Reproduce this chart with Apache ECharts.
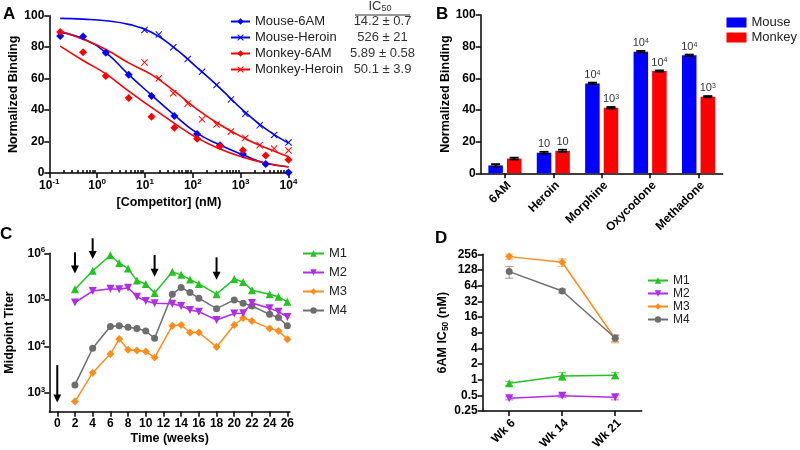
<!DOCTYPE html>
<html><head><meta charset="utf-8">
<script src="https://cdn.jsdelivr.net/npm/echarts@6/dist/echarts.min.js"></script>
<style>html,body{margin:0;padding:0;background:#fff}#c{width:800px;height:450px}</style>
</head><body><div id="c"></div>
<script>
// ===== Panel A: competition binding =====
const conc6AM = [0.169, 0.508, 1.52, 4.57, 13.7, 41.2, 123, 370, 1111, 3333, 10000];
const concHeroin = [9.77, 19.5, 39.1, 78.1, 156, 313, 625, 1250, 2500, 5000, 10000];
const mouse6AM = [87.1, 86.7, 76.5, 62.5, 49.0, 36.3, 24.8, 17.6, 12.0, 5.7, 0.3];
const monkey6AM = [89.6, 76.7, 61.7, 47.7, 35.8, 28.8, 21.8, 17.0, 14.4, 11.1, 8.5];
const mouseHeroin = [90.9, 88.1, 79.9, 72.5, 64.4, 55.9, 46.8, 37.6, 30.3, 24.2, 19.4];
const monkeyHeroin = [70.3, 60.2, 50.7, 44.1, 34.1, 30.8, 26.4, 22.3, 17.7, 15.5, 14.3];
// fitted curves at the 6AM concentrations
const fitX = [0.169, 0.508, 1.52, 4.57, 13.7, 41.2, 123, 370, 1111, 3333, 10000];
const fitMouse6AM = [89.4, 85.3, 76.5, 62.5, 49.5, 36.8, 25.3, 17.8, 11.6, 6.2, 4.0];
const fitMonkey6AM = [80.7, 71.5, 63.0, 52.0, 41.7, 31.6, 22.3, 15.3, 10.1, 6.3, 3.8];
const fitMouseHeroin = [98.3, 97.8, 96.8, 94.5, 89.5, 79.5, 67.0, 54.0, 40.0, 28.0, 19.0];
const fitMonkeyHeroin = [90.3, 85.0, 78.6, 70.0, 62.5, 52.0, 40.5, 30.7, 22.6, 16.0, 10.4];
const seriesNamesA = ['Mouse-6AM', 'Mouse-Heroin', 'Monkey-6AM', 'Monkey-Heroin'];
const ic50Text = ['14.2 \u00b1 0.7', '526 \u00b1 21', '5.89 \u00b1 0.58', '50.1 \u00b1 3.9'];
const majorTicksA = [0.1, 1, 10, 100, 1000, 10000];
const minorTicksA = [0.2,0.3,0.4,0.5,0.6,0.7,0.8,0.9, 2,3,4,5,6,7,8,9, 20,30,40,50,60,70,80,90,
  200,300,400,500,600,700,800,900, 2000,3000,4000,5000,6000,7000,8000,9000];

// ===== Panel B: cross-reactivity =====
const drugs = ['6AM', 'Heroin', 'Morphine', 'Oxycodone', 'Methadone'];
const bindMouse = [5.0, 13.0, 56.8, 76.8, 74.5];
const bindMonkey = [9.3, 14.2, 41.4, 64.6, 48.4];
const errMouse = [0.8, 0.6, 0.5, 0.5, 0.5];
const errMonkey = [0.6, 0.7, 0.5, 0.4, 0.4];
const lblMouse = [['', ''], ['10', ''], ['10', '4'], ['10', '4'], ['10', '4']];
const lblMonkey = [['', ''], ['10', ''], ['10', '3'], ['10', '4'], ['10', '3']];

// ===== Panel C: titers =====
const weeks = [2, 4, 6, 7, 8, 9, 10, 11, 13, 14, 15, 16, 18, 20, 21, 22, 24, 25, 26];
const titerM1 = [1.7e5, 4.2e5, 9.1e5, 6.2e5, 4.7e5, 2.6e5, 2.2e5, 1.4e5, 4.0e5, 3.45e5, 2.75e5, 2.2e5, 1.33e5, 2.8e5, 2.43e5, 1.62e5, 1.32e5, 1.17e5, 9.1e4];
const titerM2 = [8.8e4, 1.55e5, 1.74e5, 1.7e5, 1.82e5, 1.17e5, 9.5e4, 8.5e4, 8.3e4, 7.4e4, 6.1e4, 5.6e4, 3.7e4, 5.1e4, 5.2e4, 8.6e4, 6.6e4, 5.6e4, 4.3e4];
const titerM3 = [660, 2750, 6900, 1.45e4, 8500, 8200, 7800, 5800, 2.8e4, 2.9e4, 2.0e4, 2.0e4, 9800, 2.9e4, 4.1e4, 3.55e4, 2.45e4, 2.15e4, 1.44e4];
const titerM4 = [1500, 9200, 2.7e4, 2.8e4, 2.6e4, 2.45e4, 2.15e4, 1.5e4, 1.33e5, 1.85e5, 1.44e5, 1.09e5, 6.5e4, 1.0e5, 8.5e4, 7.4e4, 4.9e4, 4.2e4, 2.8e4];
const boostWeeks = [0, 2, 4, 11, 18];
const arrowFrom = [4000, 1.05e6, 2.1e6, 9.2e5, 8.2e5];
const arrowTo = [630, 3.7e5, 7.5e5, 3.15e5, 2.7e5];
const weekTicks = [0, 2, 4, 6, 8, 10, 12, 14, 16, 18, 20, 22, 24, 26];
const titerTicks = [1e3, 1e4, 1e5, 1e6];

// ===== Panel D: 6AM IC50 =====
const wkLabels = ['Wk 6', 'Wk 14', 'Wk 21'];
const ic50M1 = [0.85, 1.17, 1.21], errM1 = [0.08, 0.2, 0.16];
const ic50M2 = [0.44, 0.49, 0.46], errM2 = [0.03, 0.035, 0.05];
const ic50M3 = [231, 180, 6.1], errM3 = [25, 30, 1.0];
const ic50M4 = [119, 50.5, 6.3], errM4 = [30, 4, 0.9];
const ic50Ticks = [0.25, 0.5, 1, 2, 4, 8, 16, 32, 64, 128, 256];

// ===== styles =====
const FF = '"Liberation Sans", Arial, sans-serif';
const BLUE = '#0000ff', RED = '#ff0000';
const GREEN = '#22c322', PURPLE = '#b02ce8', ORANGE = '#ff8c1a', GRAY = '#6e6e6e';
const mNames = ['M1', 'M2', 'M3', 'M4'];
const mColors = [GREEN, PURPLE, ORANGE, GRAY];
const mSymbols = ['triangle', 'triangle', 'diamond', 'circle'];
const mRot = [0, 180, 0, 0];
const mSize = [8, 8, 8, 7];
const XSYM = 'path://M1,0L5,4L9,0L10,1L6,5L10,9L9,10L5,6L1,10L0,9L4,5L0,1Z';

const axLine = {show: true, onZero: false, lineStyle: {color: '#000', width: 1.5}};
const axTick = (vals, len) => Object.assign({show: true, length: len || 5, lineStyle: {color: '#000', width: 1.5}}, vals ? {customValues: vals} : {});
const labStyle = {color: '#000', fontWeight: 'bold', fontSize: 12, fontFamily: FF};
const nameStyle = {color: '#000', fontWeight: 'bold', fontSize: 12.5, fontFamily: FF};
const supRich = {
  b: {fontSize: 12, fontWeight: 'bold', fontFamily: FF, color: '#000', lineHeight: 15},
  s: {fontSize: 8, fontWeight: 'bold', fontFamily: FF, color: '#000', verticalAlign: 'top', lineHeight: 9}
};
function pow10Label(v) {
  const e = Math.round(Math.log10(v));
  return '{b|10}{s|' + e + '}';
}
function pair(xs, ys) { return xs.map((x, i) => [x, ys[i]]); }
function supLabel(p) {
  if (!p || !p[0]) return '';
  return p[1] ? '{b|' + p[0] + '}{s|' + p[1] + '}' : '{b|' + p[0] + '}';
}

function errRender(color, halfCap, offset, lw) {
  return function (params, api) {
    const x = api.value(0), v = api.value(1), e = api.value(2);
    const hi = api.coord([x, v + e]);
    const lo = api.coord([x, Math.max(v - e, 1e-9)]);
    const cx = hi[0] + offset;
    const st = {stroke: color, lineWidth: lw};
    return {type: 'group', children: [
      {type: 'line', shape: {x1: cx, y1: hi[1], x2: cx, y2: lo[1]}, style: st},
      {type: 'line', shape: {x1: cx - halfCap, y1: hi[1], x2: cx + halfCap, y2: hi[1]}, style: st},
      {type: 'line', shape: {x1: cx - halfCap, y1: lo[1], x2: cx + halfCap, y2: lo[1]}, style: st}
    ]};
  };
}
function arrowRender(params, api) {
  const p1 = api.coord([api.value(0), api.value(1)]);
  const p2 = api.coord([api.value(0), api.value(2)]);
  const h = 8, w = 4;
  return {type: 'group', children: [
    {type: 'line', shape: {x1: p1[0], y1: p1[1], x2: p2[0], y2: p2[1] - h + 1}, style: {stroke: '#000', lineWidth: 2}},
    {type: 'polygon', shape: {points: [[p2[0] - w, p2[1] - h], [p2[0] + w, p2[1] - h], [p2[0], p2[1]]]}, style: {fill: '#000'}}
  ]};
}

const series = [];
// ---- A fits (legend carriers) ----
const fitsA = [fitMouse6AM, fitMouseHeroin, fitMonkey6AM, fitMonkeyHeroin];
const ptsA = [[conc6AM, mouse6AM], [concHeroin, mouseHeroin], [conc6AM, monkey6AM], [concHeroin, monkeyHeroin]];
const colA = [BLUE, BLUE, RED, RED];
const symA = ['diamond', XSYM, 'diamond', XSYM];
for (let i = 0; i < 4; i++) {
  series.push({
    type: 'line', name: seriesNamesA[i], xAxisIndex: 0, yAxisIndex: 0,
    data: pair(fitX, fitsA[i]), smooth: true, symbol: symA[i], symbolSize: 8, showSymbol: false,
    lineStyle: {color: colA[i], width: 1.6}, itemStyle: {color: colA[i]}, clip: false, z: 2
  });
  series.push({
    type: 'scatter', name: seriesNamesA[i] + ' data', xAxisIndex: 0, yAxisIndex: 0,
    data: pair(ptsA[i][0], ptsA[i][1]), symbol: symA[i], symbolSize: symA[i] === XSYM ? 7 : 8,
    itemStyle: {color: colA[i], opacity: 1}, clip: false, z: 3
  });
}
// ---- B bars ----
const barLabelRich = {b: {fontSize: 11, fontFamily: FF, color: '#333'}, s: {fontSize: 7, fontFamily: FF, color: '#333', verticalAlign: 'top'}};
series.push({
  type: 'bar', name: 'Mouse', xAxisIndex: 2, yAxisIndex: 1, data: bindMouse,
  barWidth: 14.5, barGap: '28%', itemStyle: {color: BLUE},
  label: {show: true, position: 'top', distance: 3, formatter: p => supLabel(lblMouse[p.dataIndex]), rich: barLabelRich}
});
series.push({
  type: 'bar', name: 'Monkey', xAxisIndex: 2, yAxisIndex: 1, data: bindMonkey,
  barWidth: 14.5, barGap: '28%', itemStyle: {color: RED},
  label: {show: true, position: 'top', distance: 3, formatter: p => supLabel(lblMonkey[p.dataIndex]), rich: barLabelRich}
});
series.push({type: 'custom', name: 'errMouse', xAxisIndex: 2, yAxisIndex: 1, z: 5,
  data: drugs.map((d, i) => [i, bindMouse[i], errMouse[i]]), renderItem: errRender('#000', 4.5, -9.28, 1.8)});
series.push({type: 'custom', name: 'errMonkey', xAxisIndex: 2, yAxisIndex: 1, z: 5,
  data: drugs.map((d, i) => [i, bindMonkey[i], errMonkey[i]]), renderItem: errRender('#000', 4.5, 9.28, 1.8)});
// ---- C titers ----
const titers = [titerM1, titerM2, titerM3, titerM4];
for (let i = 0; i < 4; i++) {
  series.push({
    type: 'line', name: mNames[i], xAxisIndex: 3, yAxisIndex: 2, data: pair(weeks, titers[i]),
    symbol: mSymbols[i], symbolRotate: mRot[i], symbolSize: mSize[i], showSymbol: true,
    lineStyle: {color: mColors[i], width: 1.5}, itemStyle: {color: mColors[i]}, clip: false, z: 3 + (3 - i)
  });
}
series.push({type: 'custom', name: 'boosts', xAxisIndex: 3, yAxisIndex: 2, z: 10, clip: false,
  data: boostWeeks.map((w, i) => [w, arrowFrom[i], arrowTo[i]]), renderItem: arrowRender});
// ---- D IC50 ----
const ic50s = [ic50M1, ic50M2, ic50M3, ic50M4];
const errs = [errM1, errM2, errM3, errM4];
for (let i = 0; i < 4; i++) {
  series.push({
    type: 'line', name: mNames[i], xAxisIndex: 4, yAxisIndex: 3, data: ic50s[i],
    symbol: mSymbols[i], symbolRotate: mRot[i], symbolSize: mSize[i], showSymbol: true,
    lineStyle: {color: mColors[i], width: 1.5}, itemStyle: {color: mColors[i]}, clip: false, z: 4
  });
  series.push({type: 'custom', name: 'errD' + i, xAxisIndex: 4, yAxisIndex: 3, z: 3,
    data: wkLabels.map((w, j) => [j, ic50s[i][j], errs[i][j]]),
    renderItem: errRender(echarts.color.modifyAlpha(mColors[i], 0.6), 4, 0, 1.2)});
}

const rotLabel = Object.assign({}, labStyle, {rotate: 45, interval: 0, margin: 6, verticalAlign: 'top', align: 'right'});
const option = {
  animation: false,
  backgroundColor: '#fff',
  textStyle: {fontFamily: FF},
  grid: [
    {left: 49.3, top: 15.7, width: 239.2, height: 157.3, outerBoundsMode: 'none'},
    {left: 480.7, top: 15, width: 242, height: 158.3, outerBoundsMode: 'none'},
    {left: 49.3, top: 253.3, width: 240.7, height: 158.4, outerBoundsMode: 'none'},
    {left: 482.7, top: 254.3, width: 159, height: 156.7, outerBoundsMode: 'none'}
  ],
  xAxis: [
    {type: 'log', gridIndex: 0, logBase: 10, min: 0.1, max: 10000, axisLine: axLine, axisTick: axTick(majorTicksA, 5),
     splitLine: {show: false}, minorTick: {show: false},
     axisLabel: {customValues: majorTicksA, formatter: pow10Label, rich: supRich, margin: 5},
     name: '[Competitor] (nM)', nameLocation: 'middle', nameGap: 23.5, nameTextStyle: nameStyle},
    {type: 'log', gridIndex: 0, logBase: 10, min: 0.1, max: 10000, axisLine: {show: false},
     axisTick: axTick(minorTicksA, 3), axisLabel: {show: false}, splitLine: {show: false}},
    {type: 'category', gridIndex: 1, data: drugs, axisLine: axLine, axisTick: Object.assign(axTick(null, 5), {alignWithLabel: true}),
     axisLabel: rotLabel},
    {type: 'value', gridIndex: 2, min: -0.9, max: 26.3, axisLine: axLine, axisTick: axTick(weekTicks, 5), splitLine: {show: false},
     axisLabel: Object.assign({}, labStyle, {customValues: weekTicks, margin: 6}),
     name: 'Time (weeks)', nameLocation: 'middle', nameGap: 20.4, nameTextStyle: nameStyle},
    {type: 'category', gridIndex: 3, data: wkLabels, axisLine: axLine, axisTick: Object.assign(axTick(null, 5), {alignWithLabel: true}),
     axisLabel: rotLabel}
  ],
  yAxis: [
    {type: 'value', gridIndex: 0, min: 0, max: 100, interval: 20, axisLine: axLine, axisTick: axTick(null, 5), splitLine: {show: false},
     axisLabel: Object.assign({}, labStyle, {margin: 5}),
     name: 'Normalized Binding', nameLocation: 'middle', nameGap: 25.5, nameTextStyle: nameStyle},
    {type: 'value', gridIndex: 1, min: 0, max: 100, interval: 20, axisLine: axLine, axisTick: axTick(null, 5), splitLine: {show: false},
     axisLabel: Object.assign({}, labStyle, {margin: 5}),
     name: 'Normalized Binding', nameLocation: 'middle', nameGap: 28.5, nameTextStyle: nameStyle},
    {type: 'log', gridIndex: 2, logBase: 10, min: 400, max: 1e6, axisLine: axLine, axisTick: axTick(titerTicks, 5), splitLine: {show: false},
     axisLabel: {customValues: titerTicks, formatter: pow10Label, rich: supRich, margin: 4},
     name: 'Midpoint Titer', nameLocation: 'middle', nameGap: 33, nameTextStyle: nameStyle},
    {type: 'log', gridIndex: 3, logBase: 2, min: 0.25, max: 256, axisLine: axLine, axisTick: axTick(ic50Ticks, 5), splitLine: {show: false},
     axisLabel: Object.assign({}, labStyle, {customValues: ic50Ticks, formatter: v => String(v), margin: 5}),
     name: '{n|6AM IC}{s|50}{n| (nM)}', nameLocation: 'middle', nameGap: 32.5,
     nameTextStyle: Object.assign({}, nameStyle, {rich: {
       n: {fontSize: 12.5, fontWeight: 'bold', fontFamily: FF, color: '#000', lineHeight: 15},
       s: {fontSize: 8.5, fontWeight: 'bold', fontFamily: FF, color: '#000', verticalAlign: 'bottom', lineHeight: 9}}})}
  ],
  legend: [
    {data: seriesNamesA, orient: 'vertical', left: 225, top: 10, itemWidth: 19, itemHeight: 8, itemGap: 3,
     textStyle: {fontSize: 13, color: '#222', fontFamily: FF}, selectedMode: false},
    {data: ['Mouse', 'Monkey'], orient: 'vertical', left: 721.5, top: 11, itemWidth: 20, itemHeight: 10, itemGap: 2, icon: 'rect',
     textStyle: {fontSize: 13, color: '#222', fontFamily: FF}, selectedMode: false},
    {data: mNames, orient: 'vertical', left: 297, top: 242, itemWidth: 21, itemHeight: 8, itemGap: 6,
     textStyle: {fontSize: 13, color: '#222', fontFamily: FF}, selectedMode: false},
    {data: mNames, orient: 'vertical', left: 642, top: 269.5, itemWidth: 20, itemHeight: 8, itemGap: 1,
     textStyle: {fontSize: 12, color: '#222', fontFamily: FF}, selectedMode: false}
  ],
  graphic: [
    {type: 'text', left: 3, top: 6, style: {text: 'A', font: 'bold 17px ' + FF, fill: '#000'}},
    {type: 'text', left: 436, top: 6, style: {text: 'B', font: 'bold 17px ' + FF, fill: '#000'}},
    {type: 'text', left: 0, top: 226, style: {text: 'C', font: 'bold 17px ' + FF, fill: '#000'}},
    {type: 'text', left: 435, top: 230, style: {text: 'D', font: 'bold 17px ' + FF, fill: '#000'}},
    {type: 'text', x: 380, y: 6, style: {text: '{n|IC}{s|50}', align: 'center', verticalAlign: 'middle', textAlign: 'center', textVerticalAlign: 'middle',
      rich: {n: {fontSize: 13, fontFamily: FF, fill: '#333', color: '#333', lineHeight: 14}, s: {fontSize: 9, fontFamily: FF, fill: '#333', color: '#333', verticalAlign: 'bottom', lineHeight: 9}}}},
    {type: 'line', shape: {x1: 355, y1: 15, x2: 410, y2: 15}, style: {stroke: '#333', lineWidth: 1}},
    ...ic50Text.map((t, i) => ({type: 'text', x: 382.5, y: 21.7 + i * 16,
      style: {text: t, font: '13px ' + FF, fill: '#333', align: 'center', verticalAlign: 'middle', textAlign: 'center', textVerticalAlign: 'middle'}}))
  ],
  series: series
};
const chart = echarts.init(document.getElementById('c'), null, {renderer: 'canvas'});
chart.setOption(option);
</script></body></html>
